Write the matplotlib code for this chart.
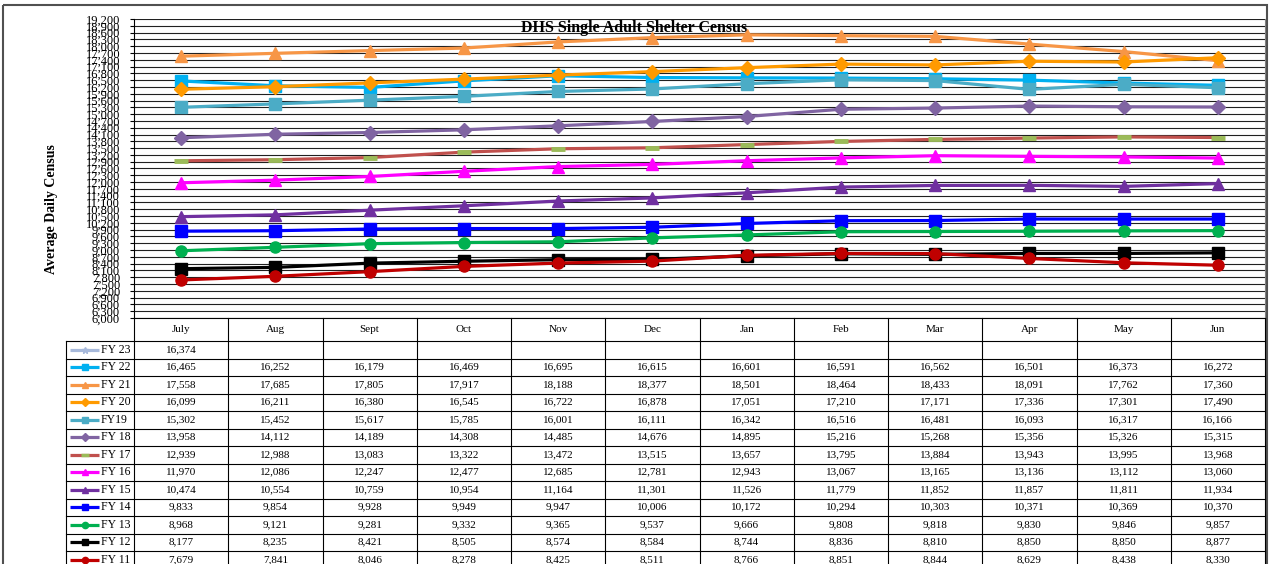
import numpy as np
import matplotlib
matplotlib.use("Agg")
import matplotlib.pyplot as plt
from matplotlib.transforms import blended_transform_factory

plt.rcParams['font.family'] = ['Liberation Serif', 'DejaVu Serif']

months = ["July", "Aug", "Sept", "Oct", "Nov", "Dec", "Jan", "Feb", "Mar", "Apr", "May", "Jun"]
series_names = ["FY 23", "FY 22", "FY 21", "FY 20", "FY19", "FY 18", "FY 17",
                "FY 16", "FY 15", "FY 14", "FY 13", "FY 12", "FY 11"]

fy23 = [16374, None, None, None, None, None, None, None, None, None, None, None]
fy22 = [16465, 16252, 16179, 16469, 16695, 16615, 16601, 16591, 16562, 16501, 16373, 16272]
fy21 = [17558, 17685, 17805, 17917, 18188, 18377, 18501, 18464, 18433, 18091, 17762, 17360]
fy20 = [16099, 16211, 16380, 16545, 16722, 16878, 17051, 17210, 17171, 17336, 17301, 17490]
fy19 = [15302, 15452, 15617, 15785, 16001, 16111, 16342, 16516, 16481, 16093, 16317, 16166]
fy18 = [13958, 14112, 14189, 14308, 14485, 14676, 14895, 15216, 15268, 15356, 15326, 15315]
fy17 = [12939, 12988, 13083, 13322, 13472, 13515, 13657, 13795, 13884, 13943, 13995, 13968]
fy16 = [11970, 12086, 12247, 12477, 12685, 12781, 12943, 13067, 13165, 13136, 13112, 13060]
fy15 = [10474, 10554, 10759, 10954, 11164, 11301, 11526, 11779, 11852, 11857, 11811, 11934]
fy14 = [9833, 9854, 9928, 9949, 9947, 10006, 10172, 10294, 10303, 10371, 10369, 10370]
fy13 = [8968, 9121, 9281, 9332, 9365, 9537, 9666, 9808, 9818, 9830, 9846, 9857]
fy12 = [8177, 8235, 8421, 8505, 8574, 8584, 8744, 8836, 8810, 8850, 8850, 8877]
fy11 = [7679, 7841, 8046, 8278, 8425, 8511, 8766, 8851, 8844, 8629, 8438, 8330]

all_series = [fy23, fy22, fy21, fy20, fy19, fy18, fy17, fy16, fy15, fy14, fy13, fy12, fy11]

# style per series: line colour, marker, marker colour, marker size
styles = [
    ("#A7B9DB", "*", "#A7B9DB", 8),
    ("#00B0F0", "s", "#00B0F0", 8),
    ("#F79646", "^", "#F79646", 8.5),
    ("#FF9A00", "D", "#FF9A00", 7),
    ("#4BACC6", "s", "#4BACC6", 8),
    ("#8064A2", "D", "#8064A2", 7),
    ("#C0504D", "_", "#9BBB59", 8),
    ("#FF00FF", "^", "#FF00FF", 8.5),
    ("#7030A0", "^", "#7030A0", 8.5),
    ("#0000FF", "s", "#0000FF", 8),
    ("#00B050", "o", "#00B050", 8),
    ("#000000", "s", "#000000", 8),
    ("#C00000", "o", "#C00000", 8),
]

W, H = 1270, 564
fig = plt.figure(figsize=(W / 100, H / 100), dpi=100)

# overlay in pixel coordinates
ov = fig.add_axes([0, 0, 1, 1], zorder=0)
ov.set_xlim(0, W)
ov.set_ylim(H, 0)
ov.axis("off")

# plot area
px_l, px_r, px_t, px_b = 134, 1265, 19, 318
ax = fig.add_axes([px_l / W, 1 - px_b / H, (px_r - px_l) / W, (px_b - px_t) / H], zorder=2)
ax.set_facecolor("none")
ax.set_xlim(0, 12)
ax.set_ylim(6000, 19200)
ticks = np.arange(6000, 19201, 300)
ax.set_yticks(ticks)
ax.set_yticklabels([f"{v:,}" for v in ticks], fontsize=9)
ax.tick_params(axis="y", length=3, width=0.8, pad=7, direction="out")
ax.set_xticks([])
ax.yaxis.grid(True, color="#202020", lw=0.8)
ax.set_axisbelow(True)
ax.spines["top"].set_visible(False)
ax.spines["right"].set_color("#808080")
ax.spines["left"].set_color("black")
ax.spines["bottom"].set_color("black")

xs = np.arange(12) + 0.5
for vals, (lc, mk, mc, ms) in zip(all_series, styles):
    y = np.array([np.nan if v is None else v for v in vals], dtype=float)
    kw = dict(color=lc, lw=2.3, marker=mk, markersize=ms, markerfacecolor=mc,
              markeredgecolor=mc, solid_capstyle="round", clip_on=False)
    if mk == "_":
        kw["markeredgewidth"] = 3.5
        kw["markersize"] = 10
    ax.plot(xs, y, **kw)

ax.set_ylabel("Average Daily Census", fontsize=10, fontweight="bold")
ax.yaxis.set_label_coords((58 - px_l) / (px_r - px_l), (px_b - 209) / (px_b - px_t))

fig.text(634 / W, 1 - 28 / H, "DHS Single Adult Shelter Census", ha="center", va="center",
         fontsize=11.5, fontweight="bold")

# outer frame
ov.add_patch(plt.Rectangle((3, 5), 1264, 600, fill=False, ec="#505050", lw=1.5))

# data table
tr = blended_transform_factory(ax.transData, ov.transData)
head_t, head_b = 318, 341
row_h = 17.5
nrows = len(series_names)
tab_bot = head_b + row_h * nrows
key_l = 66

for i in range(13):
    ov.plot([i, i], [head_t, tab_bot], color="black", lw=0.8, transform=tr, clip_on=False)
ov.plot([key_l, key_l], [head_b, tab_bot], color="black", lw=0.8)
for r in range(nrows + 1):
    yy = head_b + r * row_h
    ov.plot([key_l, px_r], [yy, yy], color="black", lw=0.8)

for i, m in enumerate(months):
    ov.text(i + 0.5, (head_t + head_b) / 2, m, transform=tr, ha="center", va="center", fontsize=8)

for r, (name, vals, (lc, mk, mc, ms)) in enumerate(zip(series_names, all_series, styles)):
    yc = head_b + r * row_h + row_h / 2
    ov.plot([70, 99], [yc, yc], color=lc, lw=2.3, solid_capstyle="butt")
    kws = dict(marker=mk, color=mc, markersize=4.5, markeredgecolor=mc)
    if mk == "_":
        kws.update(markersize=6, markeredgewidth=2.5)
    ov.plot([84.5], [yc], **kws)
    ov.text(101, yc, name, ha="left", va="center", fontsize=8.5)
    for i, v in enumerate(vals):
        if v is not None:
            ov.text(i + 0.5, yc, f"{v:,}", transform=tr, ha="center", va="center", fontsize=8)

fig.savefig("out.png", dpi=100)
